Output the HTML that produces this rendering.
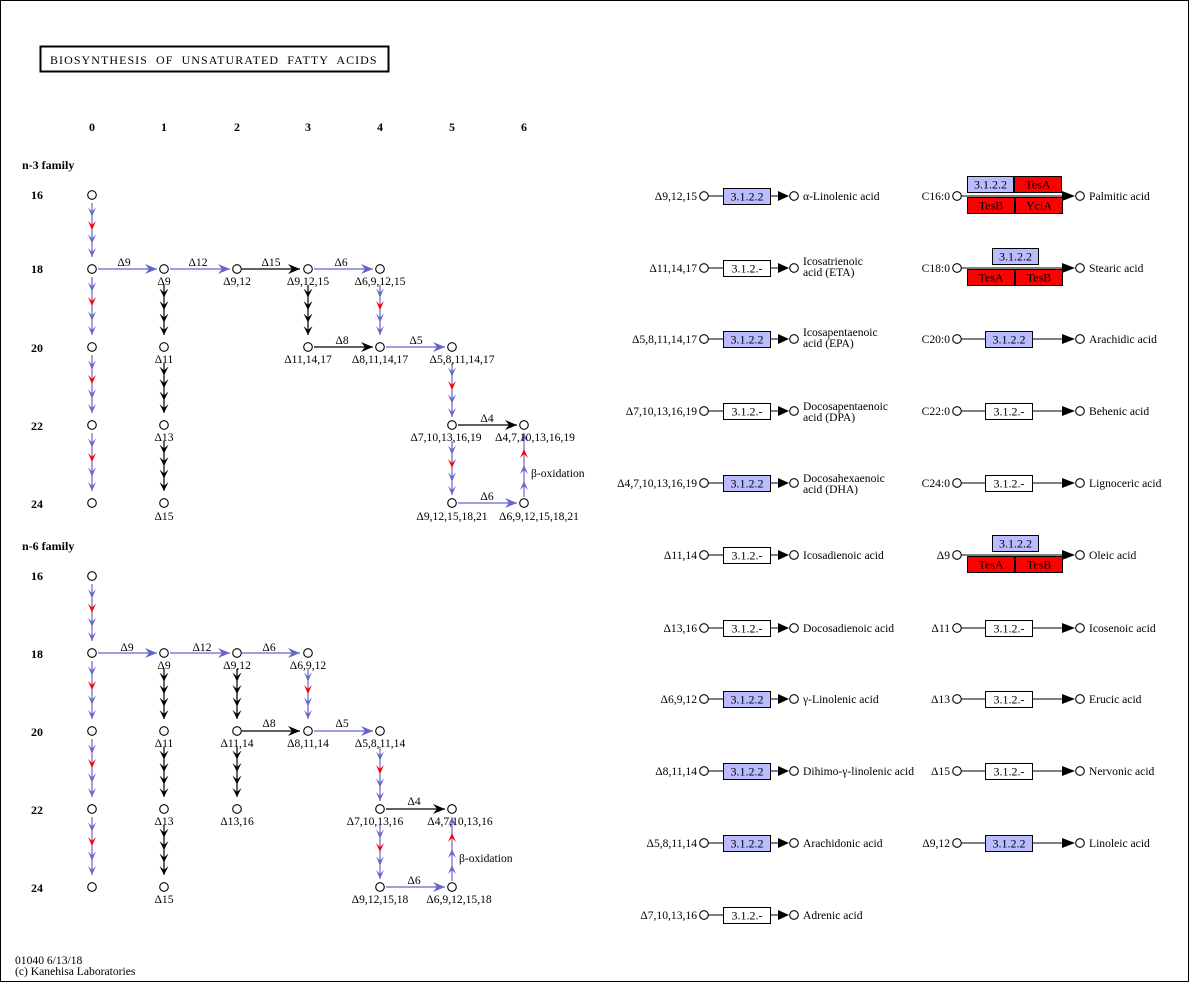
<!DOCTYPE html>
<html><head><meta charset="utf-8"><style>
html,body{margin:0;padding:0;background:#fff}
svg{display:block}
text{font-family:"Liberation Serif",serif;font-size:11.6px;fill:#000}
.b{font-weight:bold;font-size:12px}
.m{text-anchor:middle}
.e{text-anchor:end}
.bt{font-size:12px}
</style></head><body>
<svg id="s" width="1189" height="982" viewBox="0 0 1189 982" xmlns="http://www.w3.org/2000/svg">
<rect x="0.5" y="0.5" width="1188" height="981" fill="#fff" stroke="#000"/>
<rect x="40.5" y="46.5" width="348" height="25" fill="none" stroke="#000" stroke-width="2"/>
<text x="50" y="64" style="font-size:12px;letter-spacing:1.05px">BIOSYNTHESIS&#160; OF&#160; UNSATURATED&#160; FATTY&#160; ACIDS</text>
<g class="b">
<text class="b m" x="92" y="131">0</text><text class="b m" x="164" y="131">1</text><text class="b m" x="237" y="131">2</text><text class="b m" x="308" y="131">3</text><text class="b m" x="380" y="131">4</text><text class="b m" x="452" y="131">5</text><text class="b m" x="524" y="131">6</text>
<text class="b" x="22" y="169">n-3 family</text>
<text class="b" x="31" y="199">16</text><text class="b" x="31" y="273">18</text><text class="b" x="31" y="352">20</text><text class="b" x="31" y="430">22</text><text class="b" x="31" y="508">24</text>
<text class="b" x="22" y="550">n-6 family</text>
<text class="b" x="31" y="580">16</text><text class="b" x="31" y="658">18</text><text class="b" x="31" y="736">20</text><text class="b" x="31" y="814">22</text><text class="b" x="31" y="892">24</text>
</g>
<g id="g"></g>
<!-- n-3 labels -->
<text class="m" x="124" y="266">Δ9</text><text class="m" x="198" y="266">Δ12</text><text class="m" x="271" y="266">Δ15</text><text class="m" x="341" y="266">Δ6</text>
<text class="m" x="164" y="285">Δ9</text><text class="m" x="237" y="285">Δ9,12</text><text class="m" x="308" y="285">Δ9,12,15</text><text class="m" x="380" y="285">Δ6,9,12,15</text>
<text class="m" x="342" y="344">Δ8</text><text class="m" x="416" y="344">Δ5</text>
<text class="m" x="164" y="363">Δ11</text><text class="m" x="308" y="363">Δ11,14,17</text><text class="m" x="380" y="363">Δ8,11,14,17</text><text class="m" x="462" y="363">Δ5,8,11,14,17</text>
<text class="m" x="487" y="422">Δ4</text>
<text class="m" x="164" y="441">Δ13</text><text class="m" x="446" y="441">Δ7,10,13,16,19</text><text class="m" x="535" y="441">Δ4,7,10,13,16,19</text>
<text x="531" y="477">β-oxidation</text>
<text class="m" x="487" y="500">Δ6</text>
<text class="m" x="164" y="520">Δ15</text><text class="m" x="452" y="520">Δ9,12,15,18,21</text><text class="m" x="539" y="520">Δ6,9,12,15,18,21</text>
<!-- n-6 labels -->
<text class="m" x="127" y="651">Δ9</text><text class="m" x="202" y="651">Δ12</text><text class="m" x="269" y="651">Δ6</text>
<text class="m" x="164" y="669">Δ9</text><text class="m" x="237" y="669">Δ9,12</text><text class="m" x="308" y="669">Δ6,9,12</text>
<text class="m" x="269" y="727">Δ8</text><text class="m" x="342" y="727">Δ5</text>
<text class="m" x="164" y="747">Δ11</text><text class="m" x="237" y="747">Δ11,14</text><text class="m" x="308" y="747">Δ8,11,14</text><text class="m" x="380" y="747">Δ5,8,11,14</text>
<text class="m" x="414" y="805">Δ4</text>
<text class="m" x="164" y="825">Δ13</text><text class="m" x="237" y="825">Δ13,16</text><text class="m" x="375" y="825">Δ7,10,13,16</text><text class="m" x="460" y="825">Δ4,7,10,13,16</text>
<text x="459" y="862">β-oxidation</text>
<text class="m" x="414" y="884">Δ6</text>
<text class="m" x="164" y="903">Δ15</text><text class="m" x="380" y="903">Δ9,12,15,18</text><text class="m" x="459" y="903">Δ6,9,12,15,18</text>
<!-- right side left column -->
<text class="e" x="697" y="200">Δ9,12,15</text><text x="803" y="200">α-Linolenic acid</text>
<text class="e" x="697" y="272">Δ11,14,17</text><text x="803" y="265">Icosatrienoic</text><text x="803" y="276">acid (ETA)</text>
<text class="e" x="697" y="343">Δ5,8,11,14,17</text><text x="803" y="336">Icosapentaenoic</text><text x="803" y="347">acid (EPA)</text>
<text class="e" x="697" y="415">Δ7,10,13,16,19</text><text x="803" y="410">Docosapentaenoic</text><text x="803" y="421">acid (DPA)</text>
<text class="e" x="697" y="487">Δ4,7,10,13,16,19</text><text x="803" y="482">Docosahexaenoic</text><text x="803" y="493">acid (DHA)</text>
<text class="e" x="697" y="559">Δ11,14</text><text x="803" y="559">Icosadienoic acid</text>
<text class="e" x="697" y="632">Δ13,16</text><text x="803" y="632">Docosadienoic acid</text>
<text class="e" x="697" y="703">Δ6,9,12</text><text x="803" y="703">γ-Linolenic acid</text>
<text class="e" x="697" y="775">Δ8,11,14</text><text x="803" y="775">Dihimo-γ-linolenic acid</text>
<text class="e" x="697" y="847">Δ5,8,11,14</text><text x="803" y="847">Arachidonic acid</text>
<text class="e" x="697" y="919">Δ7,10,13,16</text><text x="803" y="919">Adrenic acid</text>
<!-- right column -->
<text class="e" x="950" y="200">C16:0</text><text x="1089" y="200">Palmitic acid</text>
<text class="e" x="950" y="272">C18:0</text><text x="1089" y="272">Stearic acid</text>
<text class="e" x="950" y="343">C20:0</text><text x="1089" y="343">Arachidic acid</text>
<text class="e" x="950" y="415">C22:0</text><text x="1089" y="415">Behenic acid</text>
<text class="e" x="950" y="487">C24:0</text><text x="1089" y="487">Lignoceric acid</text>
<text class="e" x="950" y="559">Δ9</text><text x="1089" y="559">Oleic acid</text>
<text class="e" x="950" y="632">Δ11</text><text x="1089" y="632">Icosenoic acid</text>
<text class="e" x="950" y="703">Δ13</text><text x="1089" y="703">Erucic acid</text>
<text class="e" x="950" y="775">Δ15</text><text x="1089" y="775">Nervonic acid</text>
<text class="e" x="950" y="847">Δ9,12</text><text x="1089" y="847">Linoleic acid</text>
<text x="15" y="964">01040 6/13/18</text>
<text x="15" y="975">(c) Kanehisa Laboratories</text>
<g id="bx"></g>
</svg>
<script>
var NS="http://www.w3.org/2000/svg",G=document.getElementById('g'),BX=document.getElementById('bx');
function el(t,a,p){var e=document.createElementNS(NS,t);for(var k in a)e.setAttribute(k,a[k]);(p||G).appendChild(e);return e;}
var B="#6666cc",R="#ff0000",K="#000";
function circ(x,y){el('circle',{cx:x,cy:y,r:4.3,fill:'#fff',stroke:'#000','stroke-width':1.1});}
function chev(x,y,c,dir,w){w=w||4;var h=9*dir;el('polygon',{points:(x-w)+','+(y-h)+' '+x+','+y+' '+(x+w)+','+(y-h)+' '+x+','+(y-h*0.55),fill:c});}
function vchain(x,y1,y2,cols,dir,w){dir=dir||1;el('line',{x1:x,y1:y1,x2:x,y2:y2,stroke:cols[0]==K&&cols[1]==K?K:B,'stroke-width':1.2});
 var n=cols.length,step=(y2-y1)/n;for(var i=0;i<n;i++){chev(x,dir>0?y1+step*(i+1):y1+step*i,cols[i],dir,w);}}
function harrow(x1,x2,y,c){el('line',{x1:x1,y1:y,x2:x2,y2:y,stroke:c,'stroke-width':1.2});
 el('polygon',{points:(x2-12)+','+(y-5)+' '+x2+','+y+' '+(x2-12)+','+(y+5)+' '+(x2-8)+','+y,fill:c});}
var BR=[B,R,B,B],KK=[K,K,K,K];
var cx=[92,164,237,308,380,452,524];
var r3=[195,269,347,425,503];
for(var i=0;i<4;i++)vchain(92,r3[i]+8,r3[i+1]-12,BR);
for(i=1;i<4;i++)vchain(164,r3[i]+16,r3[i+1]-12,KK,1,4.5);
vchain(308,r3[1]+16,r3[2]-12,KK,1,4.5);
vchain(380,r3[1]+16,r3[2]-12,[B,R,B,B]);
vchain(452,r3[2]+16,r3[3]-8,BR);vchain(452,r3[3]+16,r3[4]-8,BR);
vchain(524,r3[3]+8,r3[4]-6,[B,R,B,B],-1);
harrow(98,157,269,B);harrow(170,230,269,B);harrow(242,300,269,K);harrow(314,373,269,B);
harrow(314,373,347,K);harrow(386,445,347,B);harrow(458,517,425,K);harrow(458,517,503,B);
[[0,0],[0,1],[0,2],[0,3],[0,4],[1,1],[1,2],[1,3],[1,4],[2,1],[3,1],[4,1],[3,2],[4,2],[5,2],[5,3],[6,3],[5,4],[6,4]].forEach(function(p){circ(cx[p[0]],r3[p[1]]);});
var r6=[576,653,731,809,887];
for(i=0;i<4;i++)vchain(92,r6[i]+8,r6[i+1]-12,BR);
for(i=1;i<4;i++)vchain(164,r6[i]+16,r6[i+1]-12,KK,1,4.5);
for(i=1;i<3;i++)vchain(237,r6[i]+16,r6[i+1]-12,KK,1,4.5);
vchain(308,r6[1]+16,r6[2]-12,BR);
vchain(380,r6[2]+16,r6[3]-8,BR);vchain(380,r6[3]+16,r6[4]-8,BR);
vchain(452,r6[3]+8,r6[4]-6,[B,R,B,B],-1);
harrow(98,157,653,B);harrow(170,230,653,B);harrow(242,300,653,B);
harrow(242,300,731,K);harrow(314,373,731,B);harrow(386,445,809,K);harrow(386,445,887,B);
[[0,0],[0,1],[0,2],[0,3],[0,4],[1,1],[1,2],[1,3],[1,4],[2,1],[2,2],[2,3],[3,1],[3,2],[4,2],[4,3],[5,3],[4,4],[5,4]].forEach(function(p){circ(cx[p[0]],r6[p[1]]);});
function box(x,y,w,h,fill,t){el('rect',{x:x+.5,y:y+.5,width:w,height:h,fill:fill,stroke:'#000'},BX);var tt=el('text',{x:x+w/2+.5,y:y+h-3.5,'text-anchor':'middle','class':'bt'},BX);tt.textContent=t;}
var ly=[196,268,339,411,483,555,628,699,771,843,915],lb=[1,0,1,0,1,0,0,1,1,1,0];
ly.forEach(function(y,i){circ(704,y);circ(794,y);el('line',{x1:708,y1:y,x2:786,y2:y,stroke:K},BX);
 el('polygon',{points:'778,'+(y-5)+' 789,'+y+' 778,'+(y+5),fill:K},BX);
 box(723,y-8,47,16,lb[i]?'#bbbbff':'#fff',lb[i]?'3.1.2.2':'3.1.2.-');});
var ry=[196,268,339,411,483,555,628,699,771,843];
ry.forEach(function(y,i){circ(957,y);circ(1080,y);el('line',{x1:961,y1:y,x2:1072,y2:y,stroke:K},BX);
 el('polygon',{points:'1062,'+(y-5)+' 1075,'+y+' 1062,'+(y+5),fill:K},BX);
 if(i==0){box(967,176,46,16,'#bbbbff','3.1.2.2');box(1014,176,47,16,R,'TesA');box(967,197,47,16,R,'TesB');box(1015,197,47,16,R,'YciA');}
 else if(i==1||i==5){box(992,y-20,46,16,'#bbbbff','3.1.2.2');box(967,y+1,47,16,R,'TesA');box(1015,y+1,47,16,R,'TesB');}
 else box(985,y-8,47,16,(i==2||i==9)?'#bbbbff':'#fff',(i==2||i==9)?'3.1.2.2':'3.1.2.-');});
</script>
</body></html>
